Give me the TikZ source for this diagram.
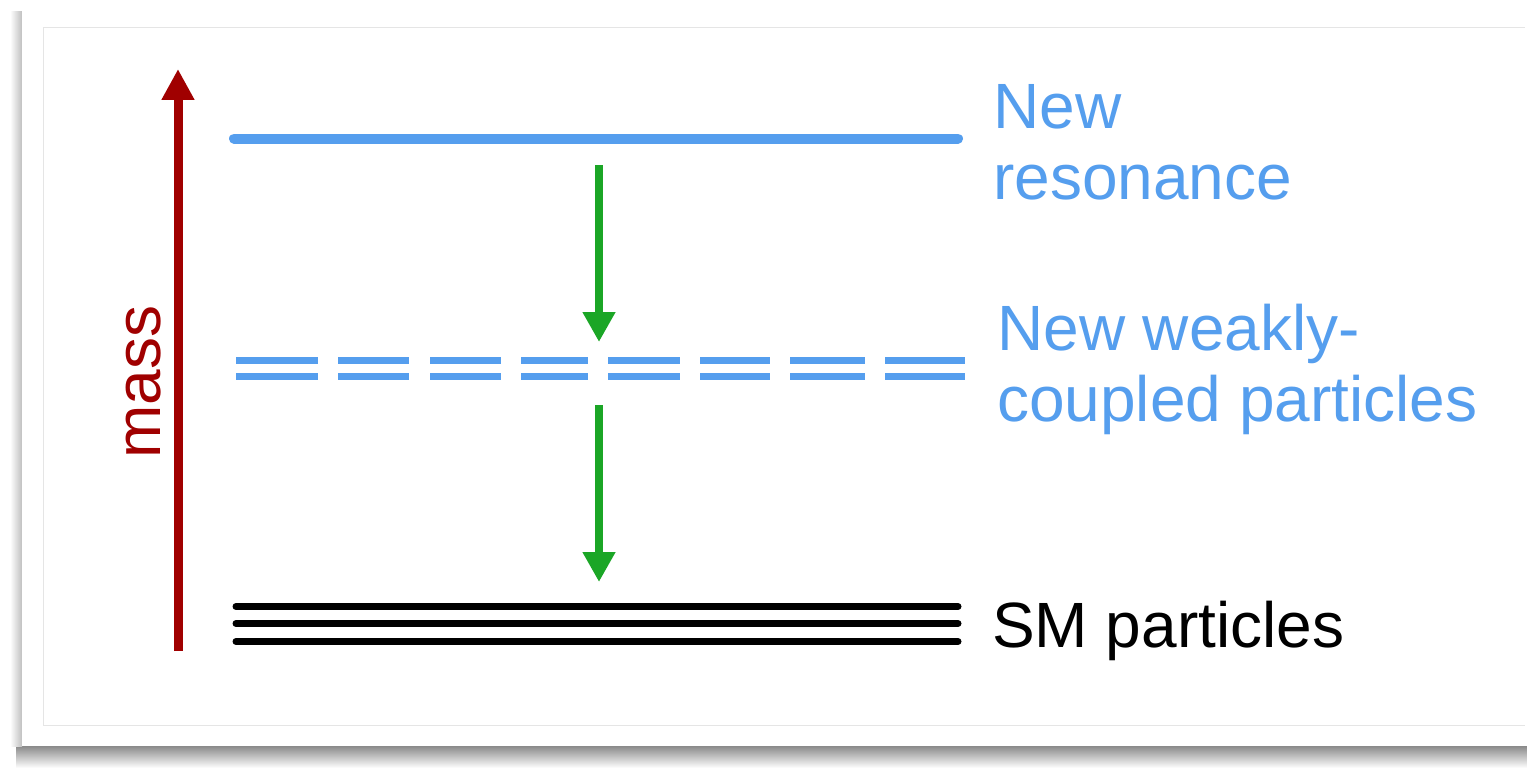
\documentclass[tikz,border=0pt]{standalone}
\usepackage{fontspec}
\setmainfont{Liberation Sans}
\usetikzlibrary{arrows.meta}
\definecolor{lvlblue}{RGB}{85,158,238}
\definecolor{massred}{RGB}{160,0,0}
\definecolor{decgreen}{RGB}{27,166,38}
\tikzset{
  lbl/.style={inner sep=0pt,anchor=base west,align=left,font=\fontsize{64}{71}\selectfont},
  level/.style={line width=#1,line cap=round},
  dashseg/.style={line width=7pt,lvlblue},
  decay/.style={decgreen,line width=8pt,-{Triangle[width=31pt,length=30pt]}},
}
\begin{document}
\begin{tikzpicture}[x=1pt,y=-1pt]
\useasboundingbox (0,0) rectangle (1527,768);
% panel shadow
\shade[top color=black!50,bottom color=white] (16,744) rectangle (1527,768);
\shade[left color=white,right color=black!25] (10,12) rectangle (22,746);
\fill[white] (22,6) rectangle (1527,746);
\draw[black!10,line width=1pt] (43,725) -- (43,28) -- (1525,28);
\draw[black!10,line width=1pt] (43,725) -- (1525,725);
% mass axis
\coordinate (mbot) at (178,651);
\coordinate (mtop) at (178,69);
\draw[massred,line width=9pt,-{Triangle[width=31pt,length=31pt]}] (mbot) -- (mtop);
\node[massred,inner sep=0pt,anchor=base,rotate=90,font=\fontsize{64}{72}\selectfont] (mass) at (160,382) {mass};
% new resonance level
\coordinate (r1) at (234,138.5);
\coordinate (r2) at (958,138.5);
\draw[lvlblue,level=10pt] (r1) -- (r2);
% weakly coupled dashed double level
\foreach \a/\b in {236/318,338/409,430/501,521/588,608/680,700/770,790/865,885/965}{
  \draw[dashseg] (\a,360.5) -- (\b,360.5);
  \draw[dashseg] (\a,376) -- (\b,376);
}
% SM levels
\foreach \yy in {606.5,623.5,641.5}{
  \draw[black,level=7pt] (236,\yy) -- (958,\yy);
}
% decay arrows
\coordinate (d1s) at (599,165);
\coordinate (d1e) at (599,342);
\coordinate (d2s) at (599,405);
\coordinate (d2e) at (599,582);
\draw[decay] (d1s) -- (d1e);
\draw[decay] (d2s) -- (d2e);
% labels
\node[lbl,text=lvlblue] (tres) at (993,199) {New\\resonance};
\node[lbl,text=lvlblue] (twk) at (997,421) {New weakly-\\coupled particles};
\node[lbl,text=black] (tsm) at (992,647) {SM particles};
\end{tikzpicture}
\end{document}
